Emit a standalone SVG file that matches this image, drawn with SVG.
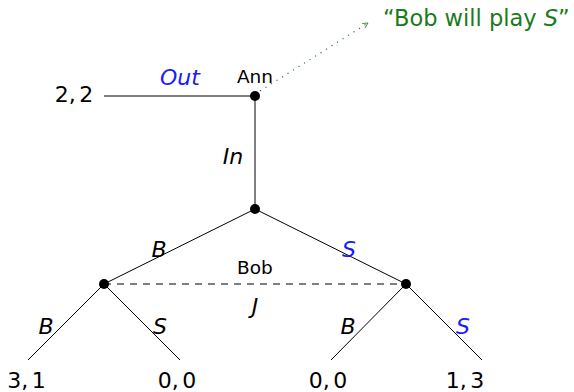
<svg xmlns="http://www.w3.org/2000/svg" width="574" height="392" viewBox="0 0 574 392">
<style>
.t{font-family:"DejaVu Sans","Liberation Sans",sans-serif;fill:#000;text-anchor:middle}
.pay{font-size:22px;word-spacing:-3.5px}
.lab{font-size:22px;font-style:italic}
.blue{fill:#1a1aff}
.pl{font-size:18.5px}
.e{stroke:#000;stroke-width:1;fill:none}
.nd{fill:#000}
</style>
<defs>
<marker id="ah" viewBox="0 0 8 8" refX="7" refY="4" markerWidth="7" markerHeight="7" orient="auto" markerUnits="userSpaceOnUse">
<path d="M1,1 L7,4 L1,7" fill="none" stroke="#2e7d32" stroke-width="0.9"/>
</marker>
</defs>
<g id="connectors">
<line class="e" x1="104" y1="96" x2="255" y2="96"/>
<line class="e" x1="255" y1="96" x2="255" y2="209"/>
<line class="e" x1="255" y1="209" x2="104" y2="284"/>
<line class="e" x1="255" y1="209" x2="406" y2="284"/>
<line class="e" x1="104" y1="284" x2="28" y2="360"/>
<line class="e" x1="104" y1="284" x2="180" y2="360"/>
<line class="e" x1="406" y1="284" x2="331" y2="360"/>
<line class="e" x1="406" y1="284" x2="482" y2="360"/>
<line x1="104" y1="284" x2="406" y2="284" stroke="#000" stroke-width="1" stroke-dasharray="7,6"/>
<line x1="260" y1="91" x2="368" y2="23" stroke="#2e7d32" stroke-width="1.2" stroke-dasharray="1.2,5.3" marker-end="url(#ah)"/>
<text class="t lab blue" x="180" y="85">Out</text>
<text class="t lab" x="233" y="164">In</text>
<text class="t lab" x="159" y="257">B</text>
<text class="t lab blue" x="349" y="257">S</text>
<text class="t lab" x="46" y="334">B</text>
<text class="t lab" x="160" y="334">S</text>
<text class="t lab" x="348" y="334">B</text>
<text class="t lab blue" x="463" y="334">S</text>
<text class="t lab" x="255" y="314">J</text>
</g>
<g id="ann">
<circle class="nd" cx="255" cy="96" r="5"/>
<text class="t pl" x="255" y="83">Ann</text>
</g>
<g id="note">
<text x="383" y="26" style="font-family:'DejaVu Sans','Liberation Sans',sans-serif;font-size:22.5px;fill:#1b7a1b">“Bob will play <tspan font-style="italic">S</tspan>”</text>
</g>
<g id="mid">
<circle class="nd" cx="255" cy="209" r="5"/>
</g>
<g id="bobL">
<circle class="nd" cx="104" cy="284" r="5"/>
</g>
<g id="bobR">
<circle class="nd" cx="406" cy="284" r="5"/>
</g>
<g id="bob">
<text class="t pl" x="255" y="274">Bob</text>
</g>
<g id="leaf22"><text class="t pay" x="74" y="101.5">2, 2</text></g>
<g id="leaf31"><text class="t pay" x="26.5" y="388">3, 1</text></g>
<g id="leaf00a"><text class="t pay" x="177" y="388">0, 0</text></g>
<g id="leaf00b"><text class="t pay" x="328" y="388">0, 0</text></g>
<g id="leaf13"><text class="t pay" x="465" y="388">1, 3</text></g>
</svg>
